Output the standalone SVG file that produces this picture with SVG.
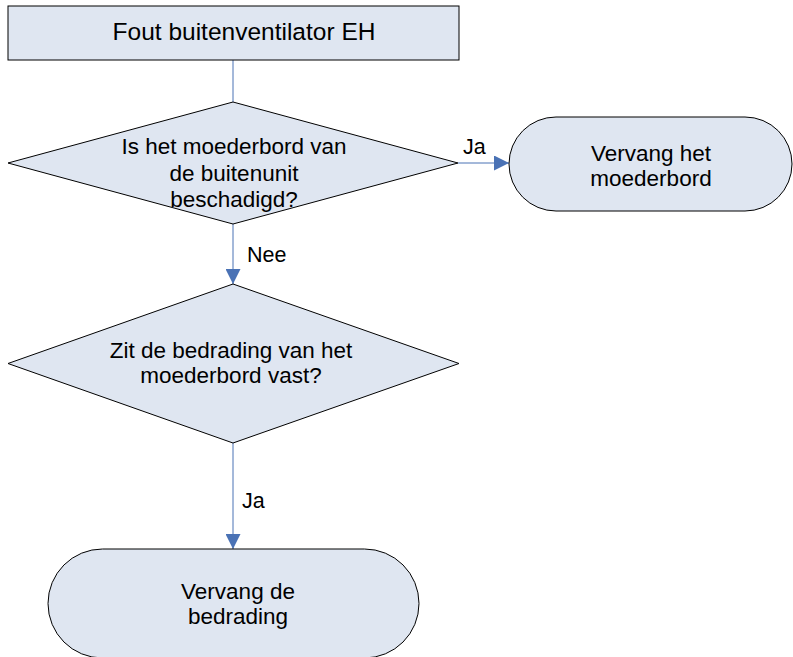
<svg xmlns="http://www.w3.org/2000/svg" width="793" height="657" viewBox="0 0 793 657">
<style>
.shape{fill:#dfe6f1;stroke:#000;stroke-width:1}
.t{font-family:"Liberation Sans",Arial,sans-serif;font-size:22.5px;fill:#000;text-anchor:middle}
.lbl{font-family:"Liberation Sans",Arial,sans-serif;font-size:21.5px;fill:#000}
.conn{stroke:#4a72b5;stroke-width:1;fill:none}
</style>
<defs>
<marker id="arr" markerWidth="15" markerHeight="15" refX="15" refY="7.5" orient="auto" markerUnits="userSpaceOnUse">
<path d="M0,0 L15,7.5 L0,15 Z" fill="#4a72b5"/>
</marker>
</defs>
<rect width="793" height="657" fill="#fff"/>
<g id="connectors">
<line class="conn" x1="233" y1="60" x2="233" y2="102"/>
<line class="conn" x1="458" y1="163" x2="509" y2="163" marker-end="url(#arr)"/>
<line class="conn" x1="233" y1="224" x2="233" y2="284" marker-end="url(#arr)"/>
<line class="conn" x1="233" y1="443" x2="233" y2="549" marker-end="url(#arr)"/>
<text class="lbl" x="463" y="154">Ja</text>
<text class="lbl" x="247" y="262">Nee</text>
<text class="lbl" x="242" y="507.5">Ja</text>
</g>
<g id="start">
<rect class="shape" x="8" y="6" width="451" height="54"/>
<text class="t" x="244" y="40" style="font-size:24.5px">Fout buitenventilator EH</text>
</g>
<g id="decision1">
<polygon class="shape" points="233,102 458,163 233,224 8,163"/>
<text class="t" x="234" y="153.5">Is het moederbord van</text>
<text class="t" x="234" y="180.5">de buitenunit</text>
<text class="t" x="234" y="206.5">beschadigd?</text>
</g>
<g id="end1">
<rect class="shape" x="509" y="117" width="283" height="94" rx="47" ry="47"/>
<text class="t" x="651" y="160.5">Vervang het</text>
<text class="t" x="651" y="186">moederbord</text>
</g>
<g id="decision2">
<polygon class="shape" points="233,284 459,363.5 233,443 8,363.5"/>
<text class="t" x="231" y="357.5">Zit de bedrading van het</text>
<text class="t" x="231" y="383">moederbord vast?</text>
</g>
<g id="end2">
<rect class="shape" x="48" y="549" width="371" height="109" rx="54.5" ry="54.5"/>
<text class="t" x="238" y="598.5">Vervang de</text>
<text class="t" x="238" y="623.5">bedrading</text>
</g>
</svg>
